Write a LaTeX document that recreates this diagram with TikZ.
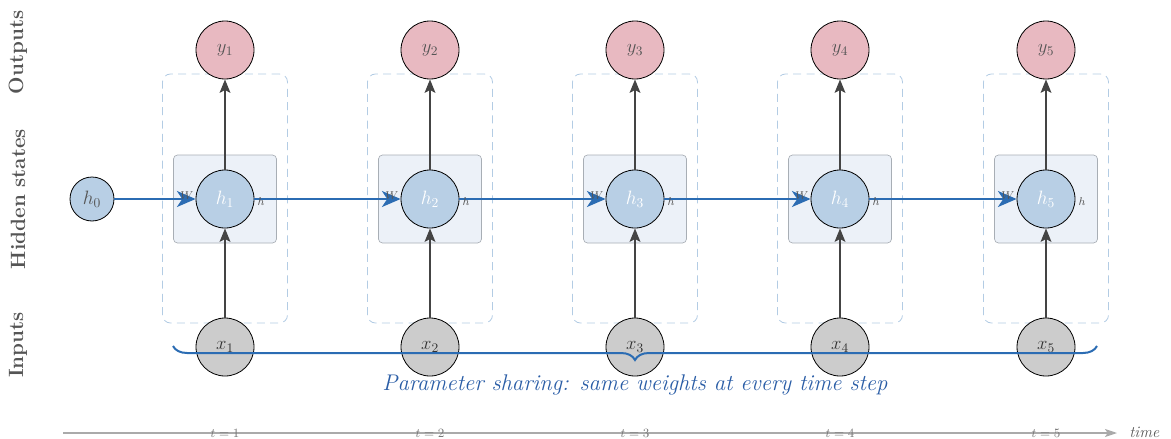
\documentclass[tikz,border=0pt]{standalone}
\usepackage{fix-cm}
\usepackage{fontspec}
\usetikzlibrary{arrows.meta,decorations.pathreplacing,calc}
\definecolor{ypink}{HTML}{E8B9C1}
\definecolor{hblue}{HTML}{B8CFE5}
\definecolor{xgray}{HTML}{CCCCCC}
\definecolor{cellfill}{HTML}{ECF1F8}
\definecolor{cellborder}{HTML}{A8AEB5}
\definecolor{dashblue}{HTML}{B3CCE4}
\definecolor{flowblue}{HTML}{2B6CB3}
\definecolor{textblue}{HTML}{2A5DA6}
\definecolor{arrowgray}{HTML}{444444}
\definecolor{labgray}{HTML}{555555}
\definecolor{axisgray}{HTML}{AAAAAA}
\tikzset{
  neuron/.style={circle, draw=black, line width=0.6pt, minimum size=43.5pt, inner sep=0pt},
  ynode/.style={neuron, fill=ypink, text=labgray, font=\fontsize{14}{16}\selectfont},
  hnode/.style={neuron, fill=hblue, text=white, font=\fontsize{14.5}{17}\selectfont},
  xnode/.style={neuron, fill=xgray, text=black!80, font=\fontsize{14}{16}\selectfont},
  h0node/.style={neuron, fill=hblue, text=labgray, minimum size=33pt, font=\fontsize{14.5}{17}\selectfont},
  cellbox/.style={rectangle, rounded corners=3pt, fill=cellfill, draw=cellborder, line width=0.5pt, minimum width=77.25pt, minimum height=66pt},
  stepframe/.style={rectangle, rounded corners=6pt, draw=dashblue, line width=0.6pt, dash pattern=on 6pt off 4pt, minimum width=93.75pt, minimum height=186.75pt},
  vflow/.style={draw=arrowgray, line width=1.5pt, -{Stealth[length=10pt,width=8pt,inset=2pt]}},
  hflow/.style={draw=flowblue, line width=1.5pt, -{Stealth[length=14pt,width=12pt,inset=4pt]}},
  wlab/.style={text=labgray, font=\fontsize{8.5}{10}\selectfont, inner sep=0pt},
  rowlab/.style={rotate=90, text=labgray, font=\fontsize{15.5}{18}\selectfont\bfseries},
  tlab/.style={text=axisgray!70!black, font=\fontsize{9.5}{11}\selectfont},
}
\begin{document}
\begin{tikzpicture}[x=0.75pt, y=-0.75pt]
\useasboundingbox (0,0) rectangle (1171,439);
% row labels
\node[rowlab] (lout) at (18,52.5) {Outputs};
\node[rowlab] (lhid) at (18,199) {Hidden states};
\node[rowlab] (linp) at (18,345) {Inputs};
% h0
\node[h0node] (h0) at (92,199) {$h_0$};
% columns
\foreach \i/\cx in {1/225,2/430,3/635,4/840,5/1046}{
  \node[stepframe] (f\i) at (\cx,198.5) {};
  \node[cellbox] (c\i) at (\cx,199) {};
  \node[ynode] (y\i) at (\cx,50) {$y_{\i}$};
  \node[hnode] (h\i) at (\cx,199) {$h_{\i}$};
  \node[xnode] (x\i) at (\cx,347) {$x_{\i}$};
  \draw[vflow] (x\i) -- (h\i);
  \draw[vflow] (h\i) -- (y\i);
}
% recurrent arrows
\draw[hflow] (h0) -- (h1);
\draw[hflow] (h1) -- (h2);
\draw[hflow] (h2) -- (h3);
\draw[hflow] (h3) -- (h4);
\draw[hflow] (h4) -- (h5);
\foreach \i in {1,...,5}{
  \node[wlab, anchor=east] (w\i) at ($(h\i.west)+(-2,-3)$) {$W$};
  \node[wlab, anchor=west] (hl\i) at ($(h\i.east)+(3,3)$) {$h$};
}
% brace
\coordinate (bl) at (173,346);
\coordinate (br) at (1097,346);
\draw[flowblue, line width=1.5pt, decorate, decoration={brace, amplitude=10.5pt}] (br) -- (bl);
\node[text=textblue, font=\fontsize{17}{20}\selectfont\itshape] (ps) at (635,385) {Parameter sharing: same weights at every time step};
% time axis
\coordinate (ta) at (63,433);
\coordinate (tb) at (1117,433);
\draw[axisgray, line width=0.8pt, -{Stealth[length=9pt,width=6pt,inset=2pt]}] (ta) -- (tb);
\node[text=labgray, font=\fontsize{12}{14}\selectfont\itshape, anchor=west, inner sep=0pt] (tm) at (1129,432) {time};
\foreach \i/\cx in {1/225,2/430,3/635,4/840,5/1046}{
  \node[tlab] (t\i) at (\cx,433.5) {$t=\i$};
}
\end{tikzpicture}
\end{document}
